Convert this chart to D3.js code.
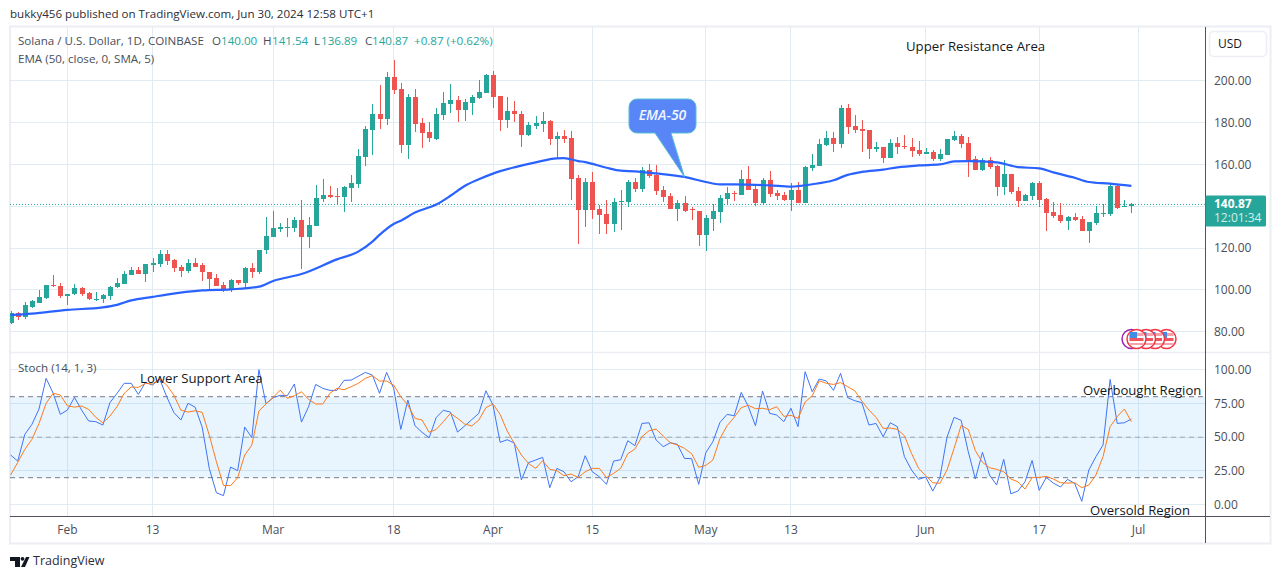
<!DOCTYPE html>
<html>
<head>
<meta charset="utf-8">
<script src="https://cdn.jsdelivr.net/npm/d3@7"></script>
<style>
  html, body { margin: 0; padding: 0; background: #fff; }
  svg { display: block; font-family: "Open Sans", sans-serif; }
</style>
</head>
<body>
<svg width="1281" height="579"></svg>
<script>
// Daily candles, Jan 24 2024 .. Jun 30 2024
var openVals = [
  84.4, 89.2, 87.1, 92.0, 93.9, 96.0, 102.2, 101.7, 97.1, 97.9,
  100.8, 98.4, 95.7, 95.5, 97.0, 101.2, 102.7, 107.0, 109.3, 107.4,
  111.9, 112.2, 117.4, 114.1, 110.8, 108.9, 112.7, 111.7, 108.7, 105.5,
  102.2, 99.8, 104.6, 103.1, 110.3, 108.4, 118.9, 125.5, 129.3, 130.0,
  129.8, 133.4, 125.5, 130.6, 143.5, 145.4, 144.9, 144.4, 148.7, 150.6,
  163.5, 176.4, 184.1, 181.7, 201.7, 196.0, 169.3, 192.2, 179.8, 175.5,
  172.1, 183.6, 188.9, 190.8, 186.0, 189.3, 191.7, 194.1, 202.7, 192.7,
  181.2, 185.5, 184.1, 174.0, 178.3, 179.3, 180.7, 172.1, 173.6, 172.6,
  153.5, 138.3, 151.6, 138.7, 136.4, 131.6, 142.2, 142.1, 151.6, 148.3,
  157.3, 154.9, 147.8, 144.9, 138.7, 141.6, 138.6, 137.8, 126.4, 134.0,
  137.3, 143.5, 146.2, 145.4, 153.0, 148.3, 141.6, 152.5, 146.4, 145.4,
  143.0, 147.8, 141.6, 158.3, 159.2, 169.2, 172.5, 169.7, 186.8, 178.3,
  176.8, 176.4, 167.3, 168.3, 163.0, 170.2, 168.7, 168.3, 166.8, 164.9,
  165.9, 162.5, 164.4, 171.6, 173.5, 170.2, 162.5, 157.3, 162.1, 159.2,
  149.2, 155.4, 147.3, 142.5, 144.9, 151.1, 143.5, 137.3, 135.9, 133.0,
  134.9, 134.0, 128.3, 132.1, 136.5, 136.4, 149.7, 139.9, 140.00
]
var highVals = [
  90.0, 89.7, 94.3, 95.1, 99.8, 102.2, 107.0, 103.1, 98.2, 102.7,
  101.4, 98.9, 98.9, 98.2, 101.7, 105.5, 109.2, 111.2, 111.1, 112.5,
  115.5, 118.9, 118.9, 114.6, 111.7, 114.6, 115.1, 112.7, 108.7, 107.4,
  103.6, 105.1, 104.6, 111.2, 112.7, 119.3, 135.1, 137.9, 132.2, 134.6,
  135.1, 143.0, 135.0, 150.2, 153.0, 149.7, 148.7, 149.7, 155.0, 167.3,
  178.3, 188.9, 197.9, 204.1, 209.8, 198.9, 193.6, 196.0, 182.2, 180.3,
  186.9, 194.6, 198.4, 192.7, 191.2, 193.1, 200.3, 203.2, 204.6, 192.7,
  192.2, 190.3, 185.5, 180.3, 183.1, 185.0, 181.2, 175.5, 176.4, 176.0,
  154.9, 153.5, 156.4, 140.6, 143.0, 144.0, 147.8, 152.5, 153.5, 158.7,
  160.2, 159.7, 149.7, 146.4, 143.0, 144.9, 139.7, 137.8, 135.9, 141.1,
  145.4, 149.2, 147.3, 157.3, 159.2, 150.2, 153.5, 156.9, 147.8, 146.8,
  151.1, 151.6, 159.2, 164.9, 172.1, 175.9, 175.4, 188.3, 188.7, 183.5,
  181.1, 176.4, 170.6, 168.3, 172.1, 173.0, 174.0, 172.5, 171.1, 167.8,
  166.8, 167.3, 172.1, 175.9, 174.4, 173.0, 164.0, 163.0, 163.5, 159.7,
  162.1, 155.4, 149.2, 145.9, 151.6, 152.1, 144.0, 142.1, 141.6, 135.4,
  136.8, 135.4, 132.5, 140.2, 141.1, 151.1, 150.6, 143.0, 141.54
]
var lowVals = [
  83.8, 85.7, 86.0, 91.4, 93.6, 95.5, 101.4, 96.0, 92.7, 97.6,
  97.1, 95.4, 94.6, 93.6, 95.2, 100.8, 102.7, 107.0, 107.4, 103.6,
  108.5, 110.9, 111.7, 108.4, 106.0, 107.9, 111.2, 104.1, 100.3, 101.7,
  98.9, 98.9, 102.2, 100.8, 105.5, 107.4, 117.4, 125.5, 127.6, 125.1,
  127.9, 110.1, 120.1, 130.6, 142.0, 144.0, 140.6, 137.3, 142.0, 148.7,
  159.2, 164.5, 176.9, 178.8, 193.6, 165.4, 162.6, 175.5, 167.8, 170.7,
  171.6, 181.2, 184.6, 180.3, 180.7, 183.6, 191.2, 194.1, 186.9, 175.9,
  177.4, 180.3, 168.3, 173.6, 176.9, 175.5, 169.3, 162.6, 170.2, 143.0,
  122.1, 130.2, 134.0, 126.8, 126.8, 127.8, 128.7, 139.7, 146.8, 146.8,
  153.5, 145.4, 142.1, 138.7, 133.0, 137.3, 133.5, 121.1, 118.7, 128.3,
  132.1, 140.6, 142.5, 145.4, 147.8, 140.2, 140.6, 144.4, 143.0, 142.5,
  137.8, 141.6, 141.6, 156.8, 159.2, 168.7, 165.9, 167.8, 174.4, 174.9,
  165.9, 162.5, 165.9, 160.6, 163.0, 164.9, 167.3, 163.5, 164.0, 164.9,
  161.6, 161.6, 164.4, 171.1, 167.8, 154.0, 157.3, 156.8, 157.8, 144.9,
  145.4, 145.9, 139.7, 142.5, 143.0, 139.7, 128.3, 134.4, 132.1, 128.7,
  133.0, 128.3, 122.5, 131.1, 134.9, 135.4, 138.7, 139.7, 136.89
]
var closeVals = [
  89.2, 87.1, 92.7, 94.6, 96.5, 102.2, 101.7, 97.0, 97.9, 100.8,
  98.1, 95.7, 95.9, 97.4, 101.2, 103.1, 107.4, 109.3, 107.4, 112.2,
  112.7, 117.4, 113.6, 110.3, 108.9, 112.7, 111.2, 108.4, 105.1, 101.7,
  99.8, 104.6, 103.1, 110.3, 108.4, 119.3, 126.0, 129.8, 130.3, 130.3,
  133.6, 125.5, 131.1, 144.0, 145.4, 144.4, 144.6, 149.2, 151.1, 164.0,
  176.9, 184.1, 181.7, 201.7, 195.5, 169.3, 192.2, 179.3, 175.0, 172.6,
  184.1, 189.3, 190.8, 186.0, 189.8, 192.2, 194.6, 202.7, 192.2, 181.2,
  185.5, 184.1, 174.0, 178.8, 179.8, 180.7, 172.1, 173.6, 172.1, 153.0,
  138.3, 151.6, 138.3, 135.9, 131.6, 142.1, 142.5, 151.6, 148.3, 157.3,
  154.4, 147.3, 144.4, 138.7, 141.6, 137.8, 138.3, 126.4, 134.4, 137.8,
  144.0, 146.4, 145.9, 153.0, 147.8, 141.6, 152.5, 145.9, 144.9, 143.0,
  147.8, 141.6, 158.7, 159.7, 169.7, 172.5, 169.7, 186.8, 177.8, 176.4,
  175.9, 167.3, 168.3, 163.0, 170.2, 168.3, 168.3, 166.4, 164.9, 165.9,
  162.5, 164.9, 172.1, 173.5, 169.7, 162.1, 157.3, 162.1, 158.7, 149.2,
  155.4, 146.8, 142.5, 145.4, 151.1, 143.0, 136.8, 135.4, 133.0, 134.9,
  133.5, 128.3, 132.5, 136.8, 136.8, 149.7, 139.2, 140.2, 140.87
]

// EMA-50, day = days after Feb 1
var emaDays = [-8, -5, 0, 5, 7, 9, 12, 14, 19, 23, 27, 29, 33, 38, 41, 43, 44, 46, 47, 49, 52, 54, 56, 58, 60, 63, 66, 69, 70, 72, 73, 76, 78, 80, 83, 87, 90, 92, 94, 99, 102, 105, 108, 110, 112, 115, 117, 120, 123, 125, 127, 131, 134, 137, 139, 142, 144, 147, 150]
var emaVals = [88.0, 88.7, 90.5, 91.7, 92.9, 95.0, 96.7, 97.8, 99.8, 100.3, 101.6, 104.3, 107.6, 114.6, 118.3, 123.1, 126.3, 131.5, 133.1, 137.0, 140.8, 145.0, 149.7, 152.9, 155.6, 158.6, 161.0, 162.9, 163.0, 161.6, 161.1, 158.4, 157.0, 156.7, 155.7, 154.0, 151.6, 150.5, 150.5, 150.0, 149.4, 150.5, 152.4, 155.0, 156.4, 157.5, 158.6, 159.5, 160.0, 161.4, 161.6, 161.0, 158.7, 158.1, 156.2, 153.6, 151.6, 150.8, 149.7]

var stochK = [
  36.8, 32.3, 52.1, 59.5, 70.9, 93.6, 82.5, 66.9, 70.1, 79.5,
  70.1, 62.0, 61.5, 59.0, 75.6, 82.5, 89.9, 89.9, 81.7, 90.6,
  88.6, 93.1, 80.0, 68.4, 62.7, 75.1, 72.3, 57.5, 26.9, 8.9,
  6.7, 27.9, 25.2, 57.5, 49.6, 100, 74.8, 79.3, 81.0, 80.7,
  89.4, 61.2, 72.6, 89.1, 86.2, 84.7, 84.7, 92.1, 92.3, 95.1,
  98.0, 96.0, 82.5, 98.0, 86.2, 55.8, 77.5, 58.5, 53.6, 49.6,
  64.7, 69.9, 68.6, 53.8, 58.3, 63.0, 67.7, 84.4, 73.8, 46.2,
  48.1, 45.7, 18.3, 31.1, 33.1, 35.1, 12.6, 26.9, 24.4, 17.0,
  20.7, 36.3, 24.4, 20.7, 15.1, 32.3, 33.3, 47.4, 43.7, 60.2,
  60.7, 47.9, 43.0, 45.9, 44.7, 34.3, 34.1, 15.1, 38.5, 46.7,
  61.0, 66.9, 65.9, 83.2, 72.6, 58.5, 84.2, 67.7, 66.4, 61.5,
  71.4, 57.8, 98.5, 83.7, 93.1, 91.6, 84.7, 97.3, 79.3, 77.0,
  75.6, 59.0, 60.2, 50.4, 60.7, 57.8, 35.6, 25.7, 18.8, 20.5,
  10.1, 20.0, 49.9, 64.7, 62.5, 39.3, 19.0, 38.8, 22.0, 14.6,
  33.6, 8.1, 10.1, 17.0, 32.8, 10.6, 20.2, 16.0, 13.1, 18.8,
  15.8, 2.5, 25.7, 35.6, 44.2, 92.8, 60.2, 60.7, 63.5
]
var stochD = [
  22.0, 31.4, 41.0, 48.4, 60.2, 75.1, 82.5, 81.2, 73.3, 72.3,
  73.1, 70.6, 64.7, 60.7, 65.7, 72.6, 82.5, 87.2, 86.9, 89.9,
  89.4, 93.1, 88.6, 81.2, 70.1, 68.6, 69.6, 68.4, 51.6, 31.9,
  14.3, 14.1, 20.0, 36.8, 44.2, 69.4, 74.6, 79.3, 84.9, 78.8,
  80.7, 83.7, 78.0, 74.6, 74.6, 82.5, 86.2, 85.2, 87.4, 89.9,
  93.6, 95.6, 91.6, 91.6, 88.6, 80.0, 73.8, 64.0, 62.7, 53.6,
  55.8, 61.5, 67.7, 64.0, 59.8, 58.3, 62.7, 71.9, 74.6, 66.9,
  54.6, 45.4, 36.8, 30.6, 26.9, 32.6, 26.2, 25.2, 21.5, 22.7,
  20.2, 24.4, 26.9, 26.9, 20.0, 23.2, 26.9, 37.8, 41.2, 50.4,
  54.8, 56.0, 50.9, 45.9, 44.2, 41.7, 37.8, 27.7, 29.1, 33.1,
  49.1, 58.5, 64.7, 71.9, 73.6, 71.1, 71.4, 70.4, 72.6, 65.4,
  66.2, 64.0, 76.0, 80.7, 91.8, 89.9, 89.1, 90.4, 87.4, 84.4,
  76.8, 70.1, 64.7, 56.5, 56.8, 55.8, 51.1, 38.0, 26.9, 21.5,
  16.3, 15.8, 25.7, 41.7, 58.8, 55.8, 40.0, 31.4, 27.4, 26.2,
  24.4, 19.0, 17.0, 11.6, 20.0, 20.2, 21.0, 19.0, 16.3, 16.0,
  16.3, 12.6, 14.6, 22.0, 35.6, 57.8, 65.2, 70.9, 61.5
]

var priceTicks = [80, 100, 120, 140, 160, 180, 200]
var priceLabels = [80, 100, 120, 160, 180, 200]
var stochTicks = [0, 25, 50, 75, 100]
var stochLevels = [20, 50, 80]
var timeTicks = [[2024, 1, 1, "Feb"], [2024, 1, 13, "13"], [2024, 2, 1, "Mar"], [2024, 2, 18, "18"], [2024, 3, 1, "Apr"], [2024, 3, 15, "15"], [2024, 4, 1, "May"], [2024, 4, 13, "13"], [2024, 5, 1, "Jun"], [2024, 5, 17, "17"], [2024, 6, 1, "Jul"]]
var lastClose = 140.87

var green = "#26a69a", red = "#ef5350", gridColor = "#e1ecf2", frameColor = "#eceef3"
var textColor = "#4a4e59", left = 10, axisX = 1205, paneBottom = 516

var svg = d3.select("svg")

var feb1 = new Date(Date.UTC(2024, 1, 1))
function dayDate(n) { return d3.utcDay.offset(feb1, n) }

var x = d3.scaleUtc().domain([feb1, new Date(Date.UTC(2024, 6, 1))]).range([67.4, 1138.5])
var y = d3.scaleLinear().domain([80, 200]).range([331.8, 80.7])
var yStoch = d3.scaleLinear().domain([0, 100]).range([504.7, 369.7])

var candles = openVals.map(function (o, i) {
  return {date: dayDate(i - 8), o: o, h: highVals[i], l: lowVals[i], c: closeVals[i]}
})

svg.append("clipPath").attr("id", "plot").append("rect")
  .attr("x", left).attr("y", 27).attr("width", axisX - left).attr("height", paneBottom - 27)

// frame
svg.append("rect").attr("x", 10).attr("y", 26.5).attr("width", 1260.5).attr("height", 517)
  .attr("fill", "none").attr("stroke", frameColor).attr("stroke-width", 2)

// grid
var grid = svg.append("g").attr("shape-rendering", "crispEdges").attr("stroke", gridColor)
var tickDates = timeTicks.map(function (t) { return new Date(Date.UTC(t[0], t[1], t[2])) })
grid.selectAll(".v").data(tickDates).enter().append("line")
  .attr("x1", function (d) { return x(d) }).attr("x2", function (d) { return x(d) })
  .attr("y1", 27).attr("y2", paneBottom)
grid.selectAll(".h").data(priceTicks).enter().append("line")
  .attr("x1", left).attr("x2", axisX)
  .attr("y1", function (d) { return y(d) }).attr("y2", function (d) { return y(d) })
grid.selectAll(".s").data(stochTicks).enter().append("line")
  .attr("x1", left).attr("x2", axisX)
  .attr("y1", function (d) { return yStoch(d) }).attr("y2", function (d) { return yStoch(d) })

// pane separator
svg.append("line").attr("x1", left).attr("x2", 1270).attr("y1", 352.5).attr("y2", 352.5)
  .attr("stroke", frameColor).attr("stroke-width", 1.5)

// last price dotted line
svg.append("line").attr("x1", left).attr("x2", axisX)
  .attr("y1", y(lastClose)).attr("y2", y(lastClose))
  .attr("stroke", green).attr("stroke-dasharray", "1,2").attr("stroke-width", 1)

// candles
var candleG = svg.append("g").attr("clip-path", "url(#plot)").attr("shape-rendering", "crispEdges")
candleG.selectAll(".wick").data(candles).enter().append("line")
  .attr("x1", function (d) { return Math.round(x(d.date)) + 0.5 })
  .attr("x2", function (d) { return Math.round(x(d.date)) + 0.5 })
  .attr("y1", function (d) { return y(d.h) }).attr("y2", function (d) { return y(d.l) })
  .attr("stroke", function (d) { return d.c >= d.o ? green : red })
candleG.selectAll(".body").data(candles).enter().append("rect")
  .attr("x", function (d) { return Math.round(x(d.date)) - 2 })
  .attr("width", 5)
  .attr("y", function (d) { return y(Math.max(d.o, d.c)) })
  .attr("height", function (d) { return Math.max(1, Math.abs(y(d.o) - y(d.c))) })
  .attr("fill", function (d) { return d.c >= d.o ? green : red })

// EMA
var emaLine = d3.line()
  .x(function (d, i) { return x(dayDate(emaDays[i])) })
  .y(function (d) { return y(d) })
  .curve(d3.curveMonotoneX)
svg.append("path").datum(emaVals).attr("d", emaLine)
  .attr("clip-path", "url(#plot)")
  .attr("fill", "none").attr("stroke", "#2962ff").attr("stroke-width", 2.2)

// stochastic pane
svg.append("rect").attr("x", left).attr("width", axisX - left)
  .attr("y", yStoch(80)).attr("height", yStoch(20) - yStoch(80))
  .attr("fill", "#2196f3").attr("fill-opacity", 0.1)
svg.selectAll(".level").data(stochLevels).enter().append("line")
  .attr("x1", left).attr("x2", axisX)
  .attr("y1", function (d) { return yStoch(d) }).attr("y2", function (d) { return yStoch(d) })
  .attr("stroke", "#787b86").attr("stroke-dasharray", "5,4")
  .attr("stroke-opacity", function (d) { return d == 50 ? 0.6 : 1 })

function stochLine(vals, color) {
  var line = d3.line()
    .x(function (d, i) { return x(candles[i].date) })
    .y(function (d) { return yStoch(d) })
  svg.append("path").datum(vals).attr("d", line)
    .attr("fill", "none").attr("stroke", color).attr("stroke-width", 1)
}
stochLine(stochK, "#3f74f5")
stochLine(stochD, "#ff7a1a")

// axes lines
svg.append("line").attr("x1", axisX + 0.5).attr("x2", axisX + 0.5).attr("y1", 27).attr("y2", 543)
  .attr("stroke", "#50535e")
svg.append("line").attr("x1", left).attr("x2", 1270).attr("y1", paneBottom + 0.5).attr("y2", paneBottom + 0.5)
  .attr("stroke", "#50535e")

// axis labels
function label(txt, px, py, opts) {
  opts = opts || {}
  return svg.append("text").attr("x", px).attr("y", py + 1).text(txt)
    .attr("font-size", opts.size || 11.6)
    .attr("fill", opts.fill || textColor)
    .attr("text-anchor", opts.anchor || "start")
    .attr("font-weight", opts.weight || "normal")
    .attr("font-style", opts.style || "normal")
    .attr("dominant-baseline", "middle")
}
priceLabels.forEach(function (v) { label(v.toFixed(2), 1214, y(v), {size: 12}) })
stochTicks.forEach(function (v) { label(v.toFixed(2), 1214, yStoch(v), {size: 12}) })
timeTicks.forEach(function (t, i) { label(t[3], x(tickDates[i]), 530, {anchor: "middle", size: 12}) })

// price tag + currency button
svg.append("rect").attr("x", axisX + 0.5).attr("y", y(lastClose) - 9).attr("width", 60.5).attr("height", 31)
  .attr("rx", 1.5).attr("fill", green)
label(lastClose.toFixed(2), 1214, y(lastClose) - 1, {fill: "#fff", weight: "bold", size: 12})
label("12:01:34", 1214, y(lastClose) + 13.5, {fill: "#d4eeeb", size: 12})
svg.append("rect").attr("x", 1209.5).attr("y", 31.5).attr("width", 57).attr("height", 25).attr("rx", 4)
  .attr("fill", "#fff").attr("stroke", frameColor).attr("stroke-width", 1.5)
label("USD", 1218, 44, {fill: "#131722", size: 12})

// titles
label("bukky456 published on TradingView.com, Jun 30, 2024 12:58 UTC+1", 10, 14, {fill: "#2a2e39"})
label("Solana / U.S. Dollar, 1D, COINBASE", 18, 41)
var legendParts = [["O", 212, textColor], ["140.00", 221, green], ["H", 263, textColor], ["141.54", 272, green],
  ["L", 314, textColor], ["136.89", 321, green], ["C", 365, textColor], ["140.87", 372, green], ["+0.87 (+0.62%)", 414, green]]
legendParts.forEach(function (p) { label(p[0], p[1], 41, {fill: p[2]}) })
label("EMA (50, close, 0, SMA, 5)", 18, 58.5)
label("Stoch (14, 1, 3)", 18, 367.5)

// drawn notes
label("Upper Resistance Area", 906, 46, {size: 13.2, fill: "#131722"})
label("Lower Support Area", 140, 378.5, {size: 13.2, fill: "#131722"})
label("Overbought Region", 1083, 390.5, {size: 13.1, fill: "#131722"})
label("Oversold Region", 1090, 510, {size: 13.1, fill: "#131722"})

// EMA-50 callout, tail tip sits on the curve
var tipX = x(dayDate(87)), tipY = y(154)
svg.append("path")
  .attr("d", "M637,99H688a8,8 0 0 1 8,8V125a8,8 0 0 1 -8,8H671L" + tipX + "," + tipY + "L655,133H637a8,8 0 0 1 -8,-8V107a8,8 0 0 1 8,-8Z")
  .attr("fill", "#4b7cf6").attr("fill-opacity", 0.92).attr("stroke", "#56bfd2").attr("stroke-width", 1)
label("EMA-50", 662.5, 115.5, {size: 14, fill: "#f2f5ff", anchor: "middle", style: "italic", weight: 600})

// event flags
var flagXs = [1166.5, 1155, 1146, 1136.5]
svg.append("circle").attr("cx", 1131.5).attr("cy", 339).attr("r", 9.5)
  .attr("fill", "#fff").attr("stroke", "#9c27b0").attr("stroke-width", 1.5)
flagXs.forEach(function (fx) {
  svg.append("circle").attr("cx", fx).attr("cy", 339).attr("r", 9.5)
    .attr("fill", "#fff").attr("stroke", "#f23645").attr("stroke-width", 1.5)
  svg.append("rect").attr("x", fx - 7).attr("y", 333).attr("width", 14).attr("height", 3).attr("fill", "#f7a1a8")
  svg.append("rect").attr("x", fx - 7).attr("y", 338).attr("width", 14).attr("height", 3).attr("fill", "#f2545f")
  svg.append("rect").attr("x", fx - 7).attr("y", 343).attr("width", 14).attr("height", 2).attr("fill", "#f7a1a8")
  svg.append("rect").attr("x", fx - 7).attr("y", 332).attr("width", 7.5).attr("height", 6).attr("fill", "#3d8ee8")
})

// logo
var logo = svg.append("g").attr("fill", "#131722")
logo.append("path").attr("d", "M10,557H20V567H15V561H10Z")
logo.append("circle").attr("cx", 22.5).attr("cy", 558.8).attr("r", 1.9)
logo.append("path").attr("d", "M26,557H29.5L25,567H21Z")
label("TradingView", 33, 561, {size: 12.5, fill: "#2a2e39"})
</script>
</body>
</html>
